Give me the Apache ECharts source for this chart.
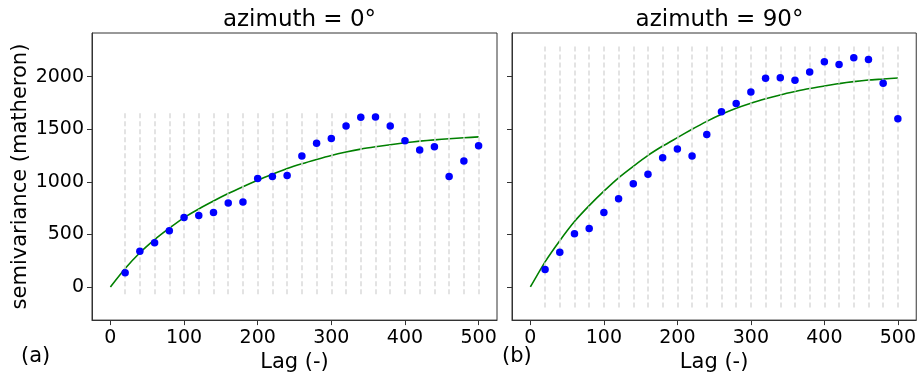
<!DOCTYPE html>
<html>
<head>
<meta charset="utf-8">
<script src="https://cdn.jsdelivr.net/npm/echarts@6/dist/echarts.min.js"></script>
<style>html,body{margin:0;padding:0;background:#fff;}#c{width:919px;height:378px;}</style>
</head>
<body>
<div id="c"></div>
<script>
// ---- data ----
const panelTitles = ['azimuth = 0°', 'azimuth = 90°'];
const panelTags = ['(a)', '(b)'];
const xTicks = [0, 100, 200, 300, 400, 500];
const yTicks = [0, 500, 1000, 1500, 2000];
const lagBins = [20, 40, 60, 80, 100, 120, 140, 160, 180, 200, 220, 240, 260, 280, 300, 320, 340, 360, 380, 400, 420, 440, 460, 480, 500];
const gammaA = [135, 340, 421, 534, 660, 679, 707, 798, 808, 1031, 1050, 1059, 1245, 1366, 1411, 1531, 1613, 1616, 1531, 1390, 1302, 1333, 1051, 1198, 1342];
const gammaB = [166, 330, 506, 557, 707, 840, 981, 1072, 1229, 1311, 1245, 1449, 1666, 1745, 1855, 1984, 1990, 1965, 2044, 2141, 2116, 2179, 2164, 1937, 1600];
const modelLag = [0, 20, 40, 60, 80, 100, 120, 140, 160, 180, 200, 220, 240, 260, 280, 300, 320, 340, 360, 380, 400, 420, 440, 460, 480, 500];
const modelA = [0, 175, 325, 450, 559, 660, 742, 817, 888, 953, 1015, 1072, 1126, 1172, 1213, 1251, 1283, 1311, 1333, 1352, 1371, 1387, 1399, 1410, 1419, 1427];
const modelB = [0, 239, 440, 622, 773, 911, 1038, 1147, 1251, 1340, 1420, 1500, 1575, 1642, 1700, 1748, 1789, 1826, 1858, 1887, 1911, 1934, 1953, 1968, 1977, 1987];
const binLineRangeA = [-70, 1675];
const binLineRangeB = [-195, 2289];

// ---- chart ----
const FONT = 'DejaVu Sans';
const chart = echarts.init(document.getElementById('c'), null, {renderer: 'canvas'});
const grids = [
  {left: 92, top: 33, width: 405, height: 290},
  {left: 512, top: 33, width: 405, height: 290}
];
function pairs(xs, ys) { return xs.map((x, i) => [x, ys[i]]); }
function binLines(range) {
  return lagBins.map(x => [{coord: [x, range[0]]}, {coord: [x, range[1]]}]);
}
const xAxes = [0, 1].map(i => ({
  type: 'value', gridIndex: i, min: -25, max: 525,
  name: 'Lag (-)', nameLocation: 'middle', nameGap: 31,
  nameTextStyle: {fontFamily: FONT, fontSize: 21, color: '#000'},
  axisLine: {show: true, onZero: false, lineStyle: {color: '#333', width: 1}},
  axisTick: {show: true, length: 5, lineStyle: {color: '#333'}, customValues: xTicks},
  axisLabel: {show: true, fontFamily: FONT, fontSize: 19, color: '#000', margin: 8, customValues: xTicks, formatter: v => String(v)},
  splitLine: {show: false}
}));
const yAxes = [0, 1].map(i => ({
  type: 'value', gridIndex: i, min: -315, max: 2415,
  name: i === 0 ? 'semivariance (matheron)' : '', nameLocation: 'middle', nameGap: 61,
  nameTextStyle: {fontFamily: FONT, fontSize: 21, color: '#000'},
  axisLine: {show: true, onZero: false, lineStyle: {color: '#333', width: 1}},
  axisTick: {show: true, length: 5, lineStyle: {color: '#333'}, customValues: yTicks},
  axisLabel: {show: i === 0, fontFamily: FONT, fontSize: 19, color: '#000', margin: 8, customValues: yTicks, formatter: v => String(v)},
  splitLine: {show: false}
}));
const gammas = [gammaA, gammaB];
const models = [modelA, modelB];
const ranges = [binLineRangeA, binLineRangeB];
const series = [];
[0, 1].forEach(i => {
  series.push({
    type: 'line', xAxisIndex: i, yAxisIndex: i, data: [], silent: true,
    markLine: {
      silent: true, symbol: ['none', 'none'], label: {show: false},
      lineStyle: {color: '#dadada', width: 1.5, type: [5, 3]},
      emphasis: {disabled: true},
      data: binLines(ranges[i])
    },
    z: 0
  });
  series.push({
    type: 'line', xAxisIndex: i, yAxisIndex: i, data: pairs(modelLag, models[i]),
    showSymbol: false, smooth: 0.2, lineStyle: {color: '#008000', width: 1.6}, z: 3, silent: true
  });
  series.push({
    type: 'scatter', xAxisIndex: i, yAxisIndex: i, data: pairs(lagBins, gammas[i]),
    symbolSize: 7.5, itemStyle: {color: '#0000ff', opacity: 1, borderWidth: 0}, z: 5, silent: true
  });
});
chart.setOption({
  animation: false,
  backgroundColor: '#fff',
  textStyle: {fontFamily: FONT},
  title: [0, 1].map(i => ({
    text: panelTitles[i], left: grids[i].left + grids[i].width / 2, top: 4, textAlign: 'center',
    textStyle: {fontFamily: FONT, fontSize: 23, fontWeight: 'normal', color: '#000'}
  })),
  grid: grids.map(g => Object.assign({show: true, borderColor: '#333', borderWidth: 1, backgroundColor: 'transparent'}, g)),
  xAxis: xAxes,
  yAxis: yAxes,
  series: series,
  graphic: [
    {type: 'text', left: 21, top: 346, style: {text: panelTags[0], font: '21px "DejaVu Sans"', fill: '#000'}},
    {type: 'text', left: 502, top: 346, style: {text: panelTags[1], font: '21px "DejaVu Sans"', fill: '#000'}}
  ]
});
</script>
</body>
</html>
